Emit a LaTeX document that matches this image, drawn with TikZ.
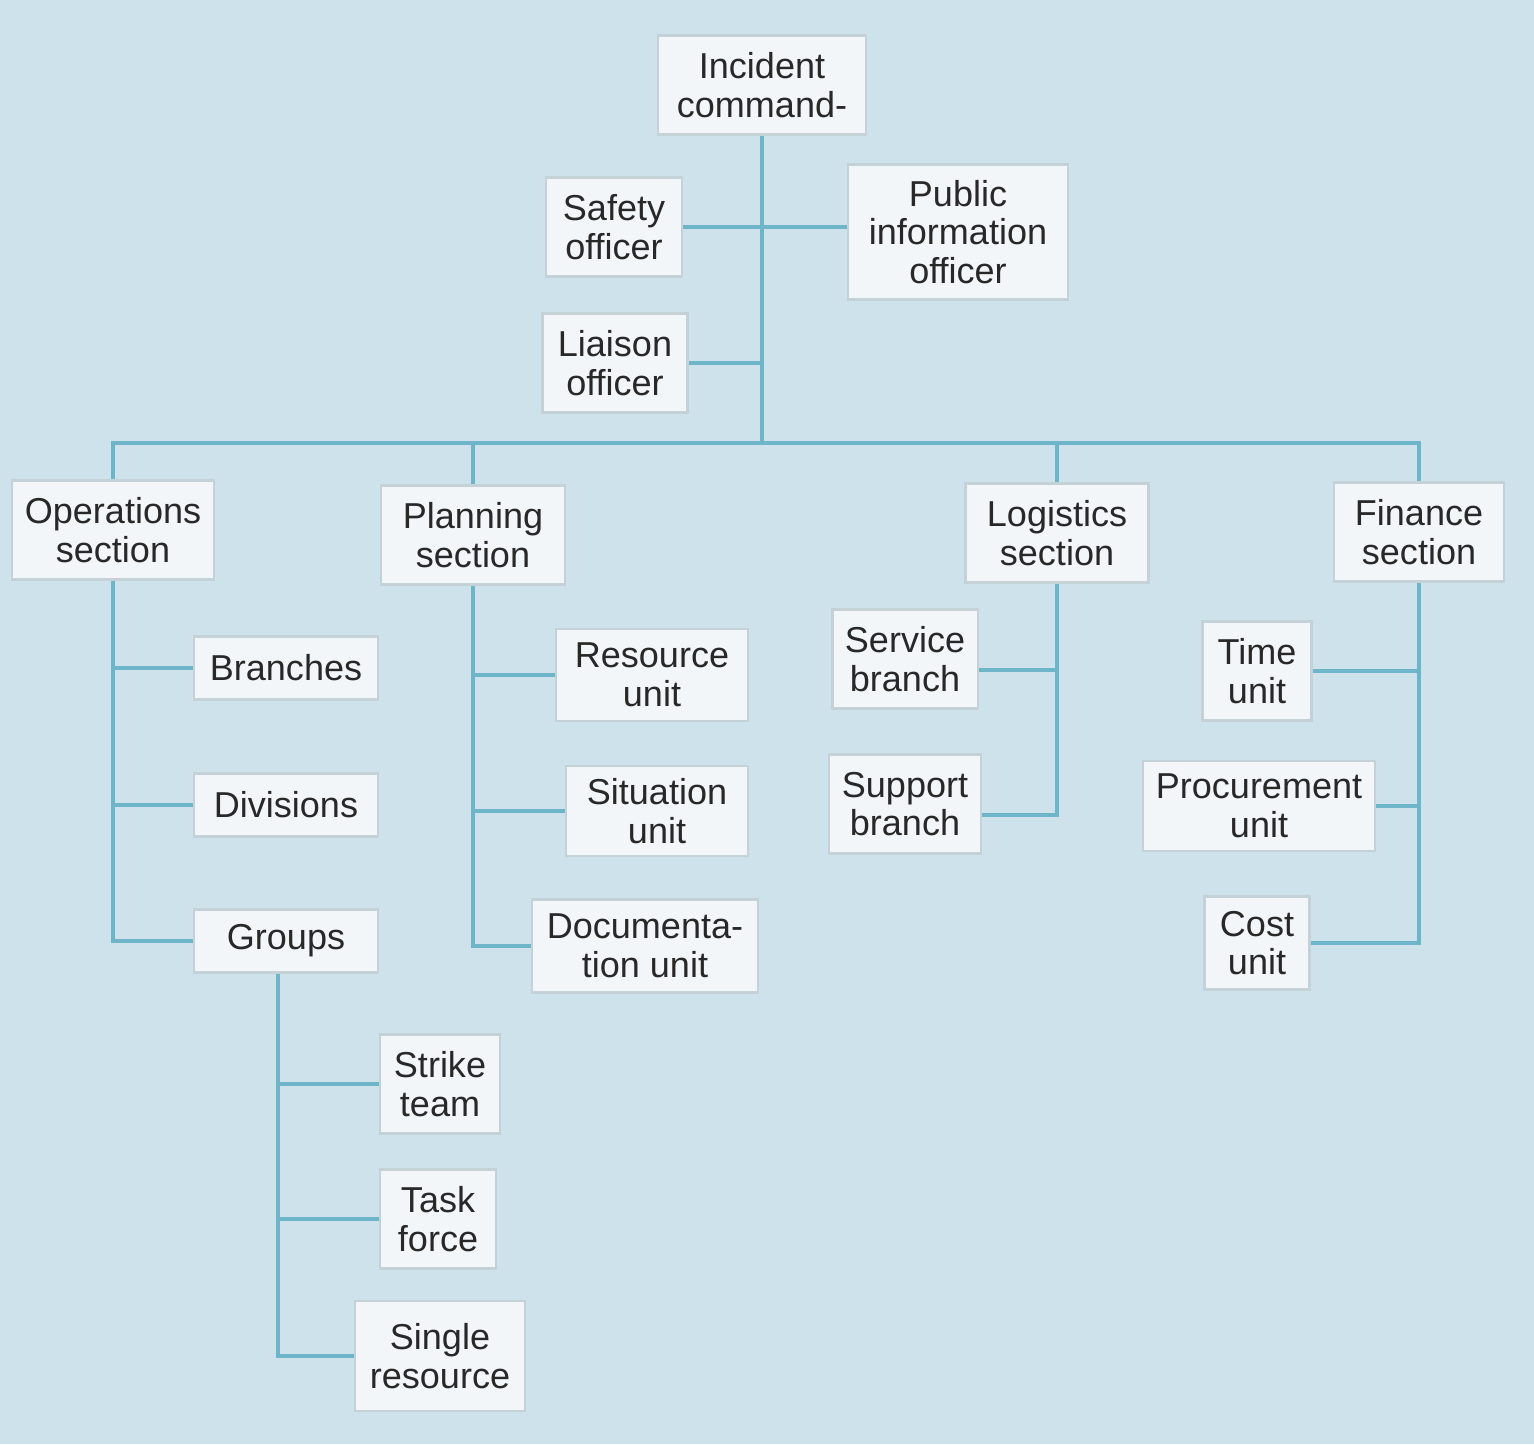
\documentclass[tikz,border=0pt]{standalone}
\usepackage{fontspec}
\setmainfont{Liberation Sans}
\usepackage{xcolor}
\definecolor{chartbg}{RGB}{206,226,235}
\definecolor{boxfill}{RGB}{243,246,248}
\definecolor{boxline}{RGB}{196,210,216}
\definecolor{linkcol}{RGB}{110,181,201}
\definecolor{txtcol}{RGB}{40,40,40}

\begin{document}
\begin{tikzpicture}[x=0.02cm,y=-0.02cm,
  box/.style={draw=boxline,line width=1.2pt,fill=boxfill,text=txtcol,align=center,
    font=\fontsize{20.5}{22}\selectfont,inner xsep=0.25cm,inner ysep=0.2cm,minimum height=1.26cm},
  two/.style={minimum height=1.98cm},
  link/.style={draw=linkcol,line width=2.3pt}]
  \fill[chartbg] (0,0) rectangle (1534,1444);
  \useasboundingbox (0,0) rectangle (1534,1444);
  % top level
  \node[box,two,minimum width=4.16cm] (ic) at (762,85) {Incident\\command-};
  \node[box,two,minimum width=2.72cm] (saf) at (614,227) {Safety\\officer};
  \node[box,minimum width=4.4cm,minimum height=2.7cm] (pio) at (958,232) {Public\\information\\officer};
  \node[box,two,minimum width=2.9cm] (lia) at (615,363) {Liaison\\officer};
  \coordinate (bus) at (762,443);
  % sections
  \node[box,two] (ops) at (113,530) {Operations\\section};
  \node[box,two,minimum width=3.68cm] (pla) at (473,535) {Planning\\section};
  \node[box,two,minimum width=3.66cm] (log) at (1057,533) {Logistics\\section};
  \node[box,two,minimum width=3.4cm] (fin) at (1419,532) {Finance\\section};
  % operations
  \node[box,minimum width=3.68cm] (brn) at (286,668) {Branches};
  \node[box,minimum width=3.68cm] (div) at (286,805) {Divisions};
  \node[box,minimum width=3.68cm] (grp) at (286,941) {Groups};
  \node[box,two,minimum width=2.4cm] (stk) at (440,1084) {Strike\\team};
  \node[box,two,minimum width=2.32cm] (tsk) at (438,1219) {Task\\force};
  \node[box,two,minimum width=3.4cm,minimum height=2.2cm] (sgl) at (440,1356) {Single\\resource};
  % planning
  \node[box,two,minimum width=3.84cm,minimum height=1.84cm] (res) at (652,675) {Resource\\unit};
  \node[box,two,minimum width=3.64cm,minimum height=1.8cm] (sit) at (657,811) {Situation\\unit};
  \node[box,two,minimum width=4.52cm,minimum height=1.86cm] (doc) at (645,946) {Documenta-\\tion unit};
  % logistics
  \node[box,two,minimum width=2.88cm] (svc) at (905,659) {Service\\branch};
  \node[box,two,minimum width=3cm] (sup) at (905,804) {Support\\branch};
  % finance
  \node[box,two,minimum width=2.18cm] (tim) at (1257,671) {Time\\unit};
  \node[box,two,minimum height=1.8cm] (prc) at (1259,806) {Procurement\\unit};
  \node[box,two,minimum width=2.1cm,minimum height=1.86cm] (cst) at (1257,943) {Cost\\unit};

  \draw[link] (ic) -- (bus);
  \draw[link] (saf.east) -- (saf.east -| pio.west);
  \draw[link] (lia.east) -- (lia.east -| bus);
  \draw[link] (ops.north) |- (bus) -| (fin.north);
  \draw[link] (pla.north) -- (pla.north |- bus);
  \draw[link] (log.north) -- (log.north |- bus);

  \draw[link] (ops.south) |- (grp.west);
  \draw[link] (ops.south |- brn.west) -- (brn.west);
  \draw[link] (ops.south |- div.west) -- (div.west);
  \coordinate (gx) at ([xshift=-0.16cm]grp.south);
  \draw[link] (gx) |- (sgl.west);
  \draw[link] (gx |- stk.west) -- (stk.west);
  \draw[link] (gx |- tsk.west) -- (tsk.west);

  \draw[link] (pla.south) |- (doc.west);
  \draw[link] (pla.south |- res.west) -- (res.west);
  \draw[link] (pla.south |- sit.west) -- (sit.west);

  \coordinate (svcj) at ([yshift=-0.22cm]svc.east);
  \coordinate (supj) at ([yshift=-0.22cm]sup.east);
  \draw[link] (log.south) |- (supj);
  \draw[link] (svcj) -- (svcj -| log.south);

  \draw[link] (fin.south) |- (cst.east);
  \draw[link] (tim.east) -- (tim.east -| fin.south);
  \draw[link] (prc.east) -- (prc.east -| fin.south);
\end{tikzpicture}
\end{document}
